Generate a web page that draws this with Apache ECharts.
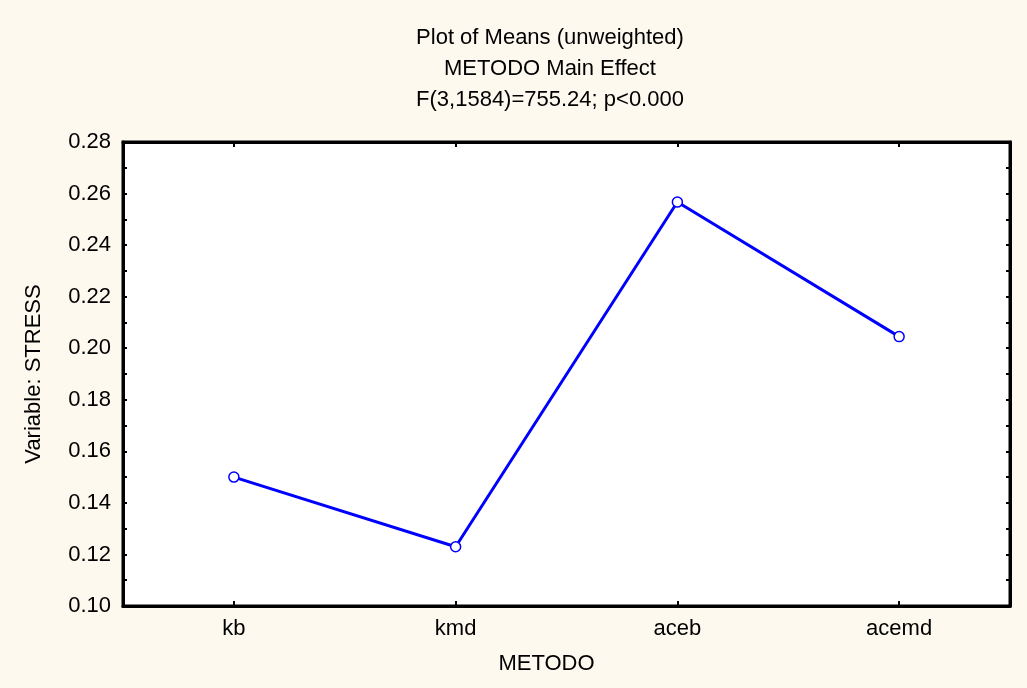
<!DOCTYPE html>
<html>
<head>
<meta charset="utf-8">
<script src="https://cdn.jsdelivr.net/npm/echarts@6/dist/echarts.min.js"></script>
<style>
html,body{margin:0;padding:0;background:#FEF9EF;}
#chart{width:1027px;height:688px;}
</style>
</head>
<body>
<div id="chart"></div>
<script>
const categories = ['kb', 'kmd', 'aceb', 'acemd'];
const stressMeans = [0.150, 0.123, 0.2567, 0.2045];
const titleLines = ['Plot of Means (unweighted)', 'METODO Main Effect', 'F(3,1584)=755.24; p<0.000'];
const yTicks = { min: 0.10, max: 0.28, interval: 0.02 };

const FONT = 'Liberation Sans, Arial, sans-serif';
const FS = 22;
const chart = echarts.init(document.getElementById('chart'), null, {renderer: 'canvas'});

const titleCenters = [38, 69, 100];
const axisBase = {
  axisLine: { show: true, onZero: false, lineStyle: { color: '#000', width: 3 } },
  splitLine: { show: false }
};
const tickStyle = { color: '#000', width: 2 };

chart.setOption({
  backgroundColor: '#FEF9EF',
  animation: false,
  title: titleLines.map((t, i) => ({
    text: t,
    left: 550,
    textAlign: 'center',
    top: titleCenters[i] - FS / 2,
    padding: 0,
    textStyle: { fontFamily: FONT, fontSize: FS, fontWeight: 'normal', color: '#000' }
  })),
  grid: {
    left: 123, right: 17, top: 142, bottom: 82,
    show: true, backgroundColor: '#fff', borderColor: '#000', borderWidth: 3,
    containLabel: false
  },
  xAxis: [
    Object.assign({}, axisBase, {
      type: 'category', data: categories, position: 'bottom',
      name: 'METODO', nameLocation: 'middle', nameGap: 47,
      nameTextStyle: { fontFamily: FONT, fontSize: FS, color: '#000', padding: [0, 40, 0, 0] },
      axisTick: { show: true, inside: true, alignWithLabel: true, length: 5, lineStyle: tickStyle },
      axisLabel: { fontFamily: FONT, fontSize: FS, color: '#000', margin: 12 }
    }),
    Object.assign({}, axisBase, {
      type: 'category', data: categories, position: 'top',
      axisTick: { show: true, inside: true, alignWithLabel: true, length: 5, lineStyle: tickStyle },
      axisLabel: { show: false }
    })
  ],
  yAxis: [
    Object.assign({}, axisBase, {
      type: 'value', position: 'left',
      min: yTicks.min, max: yTicks.max, interval: yTicks.interval,
      name: 'Variable: STRESS', nameLocation: 'middle', nameGap: 78,
      nameTextStyle: { fontFamily: FONT, fontSize: FS, color: '#000' },
      axisTick: { show: true, inside: true, length: 4, lineStyle: tickStyle },
      minorTick: { show: true, splitNumber: 2, length: 4, lineStyle: tickStyle },
      axisLabel: { fontFamily: FONT, fontSize: FS, color: '#000', margin: 12, formatter: v => v.toFixed(2) }
    }),
    Object.assign({}, axisBase, {
      type: 'value', position: 'right',
      min: yTicks.min, max: yTicks.max, interval: yTicks.interval,
      axisTick: { show: true, inside: true, length: 4, lineStyle: tickStyle },
      minorTick: { show: true, splitNumber: 2, length: 4, lineStyle: tickStyle },
      axisLabel: { show: false }
    })
  ],
  series: [{
    type: 'line',
    data: stressMeans,
    xAxisIndex: 0, yAxisIndex: 0,
    symbol: 'circle', symbolSize: 10,
    itemStyle: { color: '#fff', borderColor: '#0000FF', borderWidth: 1.5 },
    lineStyle: { color: '#0000FF', width: 3 },
    z: 5
  }]
});
</script>
</body>
</html>
